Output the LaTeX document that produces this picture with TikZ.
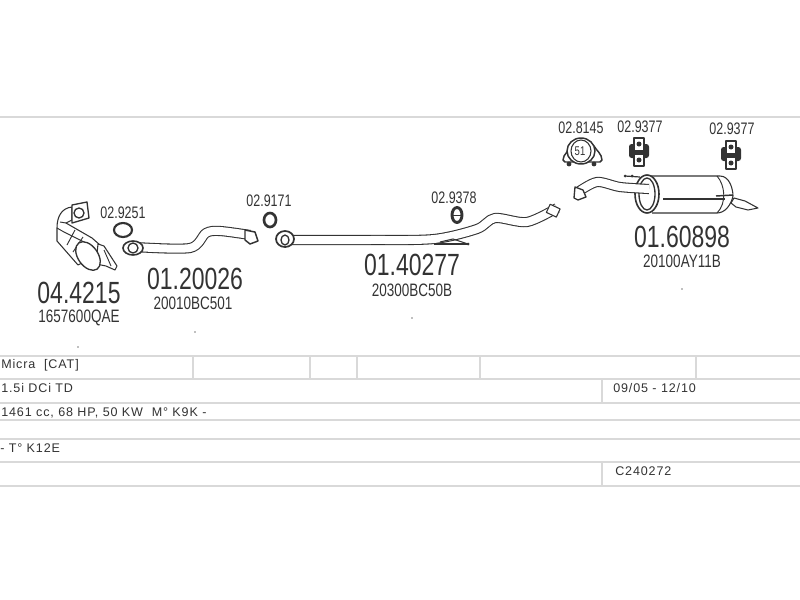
\documentclass[tikz,border=0pt]{standalone}
\usepackage{fontspec}
\usepackage{xcolor}
\setmainfont{Liberation Sans}
\newfontfamily\narrowfont[FakeStretch=0.75]{Liberation Sans}
\newfontfamily\rowfont[LetterSpace=7]{Liberation Sans}
\definecolor{inkgray}{HTML}{333333}
\definecolor{rulegray}{HTML}{D9D9D9}
\tikzset{
  partno/.style={inner sep=0pt, text=inkgray, font=\narrowfont\fontsize{23}{23}\selectfont},
  oemno/.style={inner sep=0pt, text=inkgray, font=\narrowfont\fontsize{13.5}{14}\selectfont},
  refno/.style={inner sep=0pt, text=inkgray, font=\narrowfont\fontsize{12.5}{13}\selectfont},
  rowtext/.style={inner sep=0pt, anchor=west, text=inkgray, font=\rowfont\fontsize{9.4}{10}\selectfont},
  pipe/.style={draw=inkgray, line width=.8pt, double=white, double distance=6pt, line join=round},
  part/.style={draw=inkgray, line width=.8pt, fill=white, line join=round},
  tableline/.style={draw=rulegray, line width=1.4pt},
}
\begin{document}
\begin{tikzpicture}[x=.75pt, y=-.75pt]
  \useasboundingbox (0,0) rectangle (800,600);
  \fill[white] (0,0) rectangle (800,600);

  % table
  \foreach \yy in {117,356,379,403,420,439,462,486}
    \draw[tableline] (0,\yy) -- (800,\yy);
  \foreach \xx in {193,310,357,480,696}
    \draw[tableline] (\xx,356) -- (\xx,379);
  \draw[tableline] (602,379) -- (602,403);
  \draw[tableline] (602,462) -- (602,486);

  \node[rowtext] (micra) at (1,365) {Micra\ \ [CAT]};
  \node[rowtext] (engine) at (1,388) {1.5i\ DCi\ TD};
  \node[rowtext] (power) at (1,413) {1461 cc, 68 HP, 50 KW\ \ M\textdegree\ K9K -};
  \node[rowtext] (gear) at (0,448) {-\ T\textdegree\ K12E};
  \node[rowtext] (years) at (613,388) {09/05 - 12/10};
  \node[rowtext] (code) at (615,471) {C240272};

  % catalytic converter
  \draw[part] (72,207) .. controls (62,208) and (57,216) .. (57,228) -- (57,241) -- (78,265)
     -- (100,254) -- (100,245) -- (92,238) -- (66,223) -- (72,220) -- cycle;
  \draw[inkgray, line width=.7pt] (60,222) -- (66,223);
  \draw[inkgray, line width=.7pt] (57,228) -- (64,232) -- (92,246);
  \draw[inkgray, line width=.7pt] (67,245) -- (75,230);
  \draw[inkgray, line width=.7pt] (73,252) -- (83,237);
  \draw[part] (98,244) -- (104,246) -- (117,266) -- (115,270) -- (106,266) -- (96,264) -- cycle;
  \draw[inkgray, line width=.7pt] (104,250) -- (111,266);
  \draw[part, line width=1pt, rotate around={-55:(88,256)}] (88,256) ellipse [x radius=16, y radius=10];
  \draw[part, line width=1pt] (72,205) -- (87,202) -- (89,218) -- (72,223) -- cycle;
  \draw[part, line width=1pt] (79,213) circle [radius=5];

  % front pipe
  \draw[pipe] plot[smooth, tension=.5] coordinates {(135,247) (190,248) (206,233) (220,231) (250,235)};
  \draw[part, line width=1.2pt] (133,248) ellipse [x radius=10, y radius=7];
  \draw[part, line width=1pt] (133,248) circle [radius=5];
  \draw[part, line width=1.1pt] (245,230) -- (255,232) -- (258,241) -- (250,244) -- (245,240) -- cycle;

  % gaskets
  \draw[part, line width=1.6pt] (123,230) ellipse [x radius=9, y radius=7];
  \draw[part, line width=2pt] (270,220) ellipse [x radius=6, y radius=7];

  % middle pipe
  \draw[pipe] plot[smooth, tension=.5] coordinates {(290,240) (370,240) (434,239) (477,229) (495,218) (527,222) (557,208)};
  \draw[part, line width=1.3pt] (285,239) ellipse [x radius=9, y radius=8];
  \draw[part, line width=1pt] (285,240) ellipse [x radius=4, y radius=5];
  \draw[part, rotate around={-25:(553,210)}] (548,206) rectangle (559,215);
  \draw[inkgray, line width=.8pt] (440,242) -- (453,239) -- (468,244);
  \draw[inkgray, line width=.8pt] (434,244) -- (468,244);
  \fill[inkgray] (468,244) circle [radius=1.5];

  % rear silencer
  \draw[part] (647,176) -- (720,176) .. controls (730,176) and (733,190) .. (733,196)
     .. controls (731,205) and (725,213) .. (717,213) -- (652,213);
  \draw[inkgray, line width=.7pt] (717,176) .. controls (725,185) and (727,203) .. (717,213);
  \draw[inkgray, line width=.8pt] (663,199) -- (725,199);
  \draw[inkgray, line width=1.1pt] (716,196) -- (733,195);
  \draw[part] (734,198) -- (745,201) -- (758,208) -- (748,210) -- (736,207) -- (731,203) -- cycle;
  \draw[part, line width=1.2pt] (647,194) ellipse [x radius=12, y radius=19];
  \draw[part, line width=1pt] (647,194) ellipse [x radius=8, y radius=16];
  \draw[pipe] plot[smooth, tension=.5] coordinates {(578,192) (597,182) (620,187) (649,189)};
  \draw[part, line width=1pt] (575,187) -- (583,190) -- (586,197) -- (578,200) -- (574,198) -- cycle;
  \draw[inkgray, line width=.9pt] (625,176) -- (640,177);
  \fill[inkgray] (625,176) circle [radius=1.5];
  \fill[inkgray] (632,176) circle [radius=1.5];

  % hanger 02.9378
  \draw[part, line width=2.2pt] (457,215) ellipse [x radius=5, y radius=7.5];
  \fill[inkgray] (452,215) -- (462,215) -- (462,216) -- (452,216) -- cycle;

  % clamp 02.8145
  \draw[part, line width=1.1pt] (572,146) .. controls (570,150) and (563,154) .. (563,160)
     -- (565,162) -- (600,162) -- (602,160) .. controls (602,154) and (596,150) .. (594,146) -- cycle;
  \draw[part, line width=1.1pt] (581,151) ellipse [x radius=14, y radius=13];
  \draw[part, line width=.8pt] (581,151) ellipse [x radius=10, y radius=11];
  \fill[inkgray] (569,164) circle [radius=2.4];
  \fill[inkgray] (594,164) circle [radius=2.4];
  \node[inner sep=0pt, text=inkgray, font=\narrowfont\fontsize{9.5}{10}\selectfont] (clampno) at (580,151) {51};

  % hangers 02.9377
  \foreach \hx/\hy in {639/152, 731/155} {
    \fill[inkgray, rounded corners=2pt] (\hx-10,\hy-8) rectangle (\hx+10,\hy+6);
    \draw[part, line width=1.2pt] (\hx-5,\hy-14) rectangle (\hx+5,\hy-1);
    \draw[part, line width=1.2pt] (\hx-5,\hy+2) rectangle (\hx+5,\hy+14);
    \fill[inkgray] (\hx,\hy+8) circle [radius=2.5];
    \fill[inkgray] (\hx,\hy-8) circle [radius=2.5];
  }

  % specks
  \foreach \sx/\sy in {78/347, 195/332, 412/318, 682/289}
    \fill[gray] (\sx,\sy) circle [radius=.9];

  % numbers
  \node[refno] (gasketa) at (123,213) {02.9251};
  \node[partno] (cat) at (79,293) {04.4215};
  \node[oemno] (catoem) at (79,318) {1657600QAE};
  \node[partno] (front) at (195,279) {01.20026};
  \node[oemno] (frontoem) at (193,303) {20010BC501};
  \node[refno] (gasketb) at (269,201) {02.9171};
  \node[partno] (middle) at (412,265) {01.40277};
  \node[oemno] (middleoem) at (412,290) {20300BC50B};
  \node[refno] (hangera) at (454,198) {02.9378};
  \node[refno] (clamp) at (581,128) {02.8145};
  \node[refno] (hangerb) at (640,127) {02.9377};
  \node[refno] (hangerc) at (732,129) {02.9377};
  \node[partno] (rear) at (682,237) {01.60898};
  \node[oemno] (rearoem) at (682,261) {20100AY11B};
\end{tikzpicture}
\end{document}
